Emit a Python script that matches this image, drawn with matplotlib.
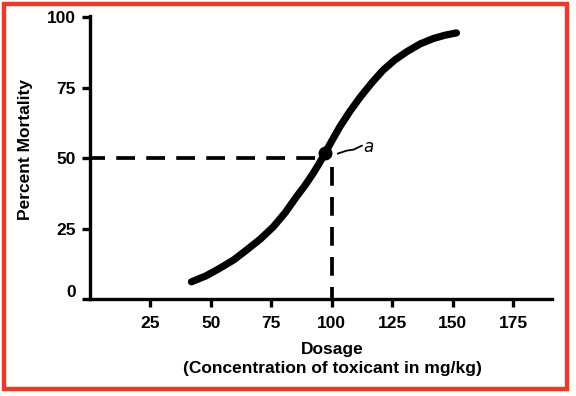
import matplotlib.pyplot as plt
import matplotlib.transforms as mtransforms
from matplotlib.patches import Rectangle

# values
dose = [42.0, 48.0, 53.7, 59.5, 64.8, 70.5, 75.8, 80.8, 85.4, 89.0, 92.3, 95.0, 97.1,
        100.2, 103.3, 107.5, 111.8, 116.5, 121.2, 126.0, 130.9, 136.5, 141.9, 146.8, 151.5]
mortality = [6.1, 8.2, 10.9, 13.9, 17.4, 21.3, 25.6, 30.7, 36.3, 40.4, 44.6, 48.4, 51.7,
             56.4, 61.1, 66.6, 71.7, 76.7, 81.2, 84.8, 87.7, 90.5, 92.4, 93.6, 94.4]
ld50_dose = 100
ld50_pct = 50
dot_x, dot_y = 97.3, 51.9
xticks = [25, 50, 75, 100, 125, 150, 175]
yticks = [0, 25, 50, 75, 100]

plt.rcParams['font.family'] = ['Liberation Sans', 'DejaVu Sans']
plt.rcParams['font.weight'] = 'bold'

fig = plt.figure(figsize=(5.76, 3.96), dpi=100)
ax = fig.add_axes([0.156, 0.245, 0.802, 0.7146])

# curve
ax.plot(dose, mortality, color='black', lw=5.2, solid_capstyle='round', solid_joinstyle='round')
ax.plot([dot_x], [dot_y], 'o', color='black', markersize=9)

# dashed guides
ax.plot([0.0, ld50_dose - 3], [ld50_pct, ld50_pct], color='black', lw=2.7,
        linestyle=(1, (5, 3)), dash_capstyle='butt')
ax.plot([ld50_dose, ld50_dose], [ld50_pct - 3, 0], color='black', lw=2.7,
        linestyle=(0, (5, 3)), dash_capstyle='butt')

# handwritten "a" marker
ax.plot([102.5, 106, 109, 112.4], [51.6, 52.6, 53.0, 54.4], color='black', lw=1.3)
ax.text(113.2, 54.0, 'a', fontsize=12, fontstyle='italic', fontweight='normal',
        family=['DejaVu Sans'], va='center', ha='left')

ax.set_xlim(0, 190.9)
ax.set_ylim(0, 100.4)
ax.set_xticks(xticks)
ax.set_yticks(yticks)
ax.tick_params(axis='both', length=6, width=2.4, labelsize=12.5, direction='out')
ax.tick_params(axis='x', pad=6)
ax.tick_params(axis='y', pad=4)
for lab in ax.get_xticklabels() + ax.get_yticklabels():
    lab.set_fontweight('bold')
# the "0" label sits a little above its tick in the original
zero_lab = ax.get_yticklabels()[0]
zero_lab.set_transform(zero_lab.get_transform() +
                       mtransforms.ScaledTranslation(0, 0.08, fig.dpi_scale_trans))

for s in ['top', 'right']:
    ax.spines[s].set_visible(False)
for s in ['left', 'bottom']:
    ax.spines[s].set_linewidth(2.4)

ax.set_xlabel('Dosage\n(Concentration of toxicant in mg/kg)', fontsize=12.5,
              fontweight='bold', linespacing=1.35)
ax.xaxis.set_label_coords(0.525, -0.152, transform=ax.transAxes)
ax.xaxis.label.set_va('top')
ax.set_ylabel('Percent Mortality', fontsize=12.5, fontweight='bold')
ax.yaxis.set_label_coords(-0.124, 0.527)

# red frame around the picture
fig.patches.append(Rectangle((4 / 576, 7 / 396), 563 / 576, 385 / 396, transform=fig.transFigure,
                             fill=False, edgecolor='#e8392b', lw=3.2))

plt.savefig('out.png', dpi=100)
